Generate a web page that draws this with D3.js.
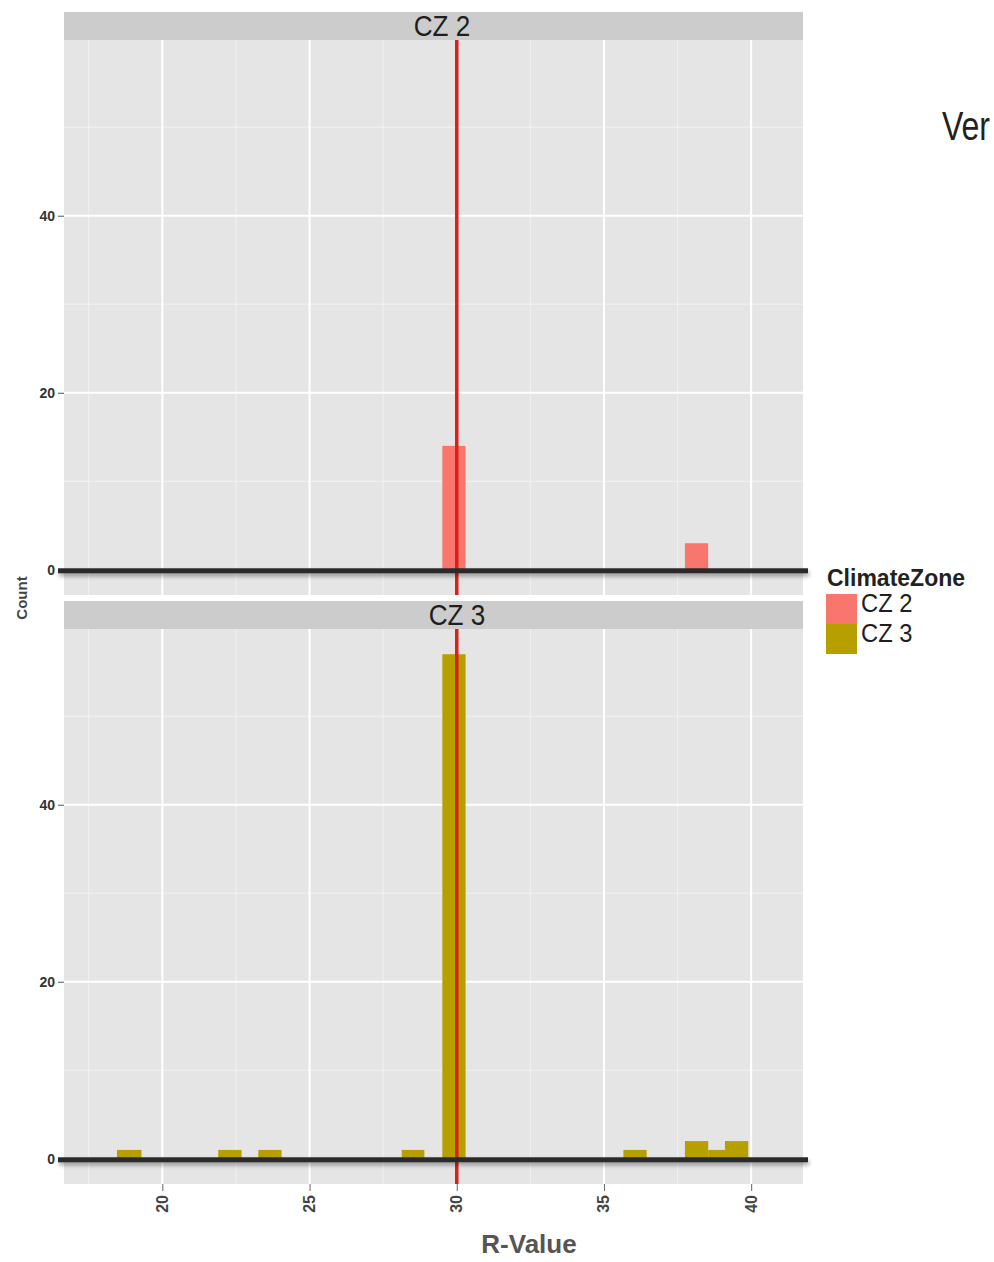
<!DOCTYPE html>
<html>
<head>
<meta charset="utf-8">
<script src="https://cdn.jsdelivr.net/npm/d3@7"></script>
<style>
  html, body { margin: 0; padding: 0; background: #ffffff; }
  svg { display: block; }
  .narrow { font-family: "Liberation Sans", Arial, sans-serif; }
  .sans { font-family: "Liberation Sans", Arial, sans-serif; }
</style>
</head>
<body>
<svg id="chart" width="994" height="1262"></svg>
<script>
// ---------- data ----------
const categories = ["CZ 2", "CZ 3"];
const cz2BinStart = [29.51, 37.75];
const cz2BinEnd   = [30.30, 38.54];
const cz2Counts   = [14, 3];
const cz3BinStart = [18.46, 21.90, 23.26, 28.13, 29.51, 35.66, 37.75, 38.54, 39.11];
const cz3BinEnd   = [19.29, 22.69, 24.05, 28.90, 30.30, 36.45, 38.54, 39.11, 39.90];
const cz3Counts   = [1, 1, 1, 1, 57, 1, 2, 1, 2];
const xTickValues = [20, 25, 30, 35, 40];
const xMinorValues = [17.5, 22.5, 27.5, 32.5, 37.5];
const yTickValues = [0, 20, 40];
const yMinorValues = [10, 30, 50];
const referenceValue = 30;
const colors = ["#F8766D", "#B79F00"];
const xTitle = "R-Value";
const yTitle = "Count";
const legendTitle = "ClimateZone";
const sideNote = "Ver";

// ---------- layout ----------
const svg = d3.select("#chart");
const panelLeft = 64, panelRight = 803;
const panels = [
  { name: categories[0], stripTop: 12, top: 40, bottom: 595, starts: cz2BinStart, ends: cz2BinEnd, counts: cz2Counts, color: colors[0], labelX: 442 },
  { name: categories[1], stripTop: 601, top: 629, bottom: 1184, starts: cz3BinStart, ends: cz3BinEnd, counts: cz3Counts, color: colors[1], labelX: 457 }
];

const x = d3.scaleLinear().domain([16.66, 41.76]).range([panelLeft, panelRight]);

const defs = svg.append("defs");
const f = defs.append("filter").attr("id", "shadow").attr("filterUnits", "userSpaceOnUse")
  .attr("x", 0).attr("y", 0).attr("width", 994).attr("height", 1262);
f.append("feDropShadow").attr("dx", 1).attr("dy", 3).attr("stdDeviation", 2).attr("flood-color", "#000").attr("flood-opacity", 0.35);

function narrowText(sel, xPos, yPos, size, sx, anchor) {
  return sel.append("text").attr("class", "narrow")
    .attr("transform", `translate(${xPos},${yPos}) scale(${sx},1)`)
    .attr("text-anchor", anchor || "start").attr("font-size", size);
}

panels.forEach((p, i) => {
  const y = d3.scaleLinear().domain([-2.85, 59.85]).range([p.bottom, p.top]);
  const g = svg.append("g");

  // strip
  g.append("rect").attr("x", panelLeft).attr("y", p.stripTop).attr("width", panelRight - panelLeft).attr("height", p.top - p.stripTop).attr("fill", "#cccccc");
  narrowText(g, p.labelX, p.top - 4, 29, 0.9, "middle").attr("fill", "#1e1e1e").text(p.name);

  // panel background
  g.append("rect").attr("x", panelLeft).attr("y", p.top).attr("width", panelRight - panelLeft).attr("height", p.bottom - p.top).attr("fill", "#e5e5e5");

  // minor grid
  g.selectAll(".vminor").data(xMinorValues).join("line")
    .attr("x1", d => x(d)).attr("x2", d => x(d)).attr("y1", p.top).attr("y2", p.bottom)
    .attr("stroke", "#f2f2f2").attr("stroke-width", 1);
  g.selectAll(".hminor").data(yMinorValues).join("line")
    .attr("x1", panelLeft).attr("x2", panelRight).attr("y1", d => y(d)).attr("y2", d => y(d))
    .attr("stroke", "#f2f2f2").attr("stroke-width", 1);
  // major grid
  g.selectAll(".vmajor").data(xTickValues).join("line")
    .attr("x1", d => x(d)).attr("x2", d => x(d)).attr("y1", p.top).attr("y2", p.bottom)
    .attr("stroke", "#ffffff").attr("stroke-width", 2);
  g.selectAll(".hmajor").data(yTickValues).join("line")
    .attr("x1", panelLeft).attr("x2", panelRight).attr("y1", d => y(d)).attr("y2", d => y(d))
    .attr("stroke", "#ffffff").attr("stroke-width", 2);

  // bars
  g.selectAll(".bar").data(p.counts.map((c, k) => ({ x0: p.starts[k], x1: p.ends[k], c }))).join("rect")
    .attr("x", d => x(d.x0)).attr("width", d => x(d.x1) - x(d.x0))
    .attr("y", d => y(d.c)).attr("height", d => y(0) - y(d.c))
    .attr("fill", p.color);

  // y axis
  const yAxis = d3.axisLeft(y).tickValues(yTickValues).tickSize(6).tickPadding(3);
  const ya = g.append("g").attr("transform", `translate(${panelLeft},0)`).call(yAxis);
  ya.select(".domain").remove();
  ya.selectAll(".tick line").attr("stroke", "#555").attr("stroke-width", 1);
  ya.selectAll(".tick text").attr("class", "sans").attr("font-size", 14).attr("font-weight", "bold").attr("fill", "#333");

  // reference line
  g.append("line").attr("x1", x(referenceValue)).attr("x2", x(referenceValue))
    .attr("y1", p.top).attr("y2", p.bottom)
    .attr("stroke", "#dd1f1a").attr("stroke-width", 3.5);

  // zero baseline (thick dark with shadow)
  g.append("rect").attr("x", panelLeft - 6).attr("width", panelRight - panelLeft + 11)
    .attr("y", y(0) - 1.5).attr("height", 5)
    .attr("fill", "#2a2a2a").attr("filter", "url(#shadow)");

  if (i === panels.length - 1) {
    const xAxis = d3.axisBottom(x).tickValues(xTickValues).tickSize(7).tickPadding(3);
    const xa = g.append("g").attr("transform", `translate(0,${p.bottom})`).call(xAxis);
    xa.select(".domain").remove();
    xa.selectAll(".tick line").attr("stroke", "#666").attr("stroke-width", 1);
    xa.selectAll(".tick text").attr("class", "sans").attr("font-size", 16).attr("font-weight", "bold").attr("fill", "#444")
      .attr("text-anchor", "end").attr("dy", null)
      .attr("transform", "rotate(-90)").attr("x", -11).attr("y", 5);
  }
});

// axis titles
svg.append("text").attr("class", "sans").attr("x", 529).attr("y", 1253)
  .attr("text-anchor", "middle").attr("font-size", 26).attr("font-weight", "bold").attr("fill", "#555").text(xTitle);
svg.append("text").attr("class", "sans").attr("transform", "translate(27,598) rotate(-90)")
  .attr("text-anchor", "middle").attr("font-size", 15).attr("font-weight", "bold").attr("fill", "#444").text(yTitle);

// legend
const lg = svg.append("g");
lg.append("text").attr("class", "sans").attr("x", 827).attr("y", 586)
  .attr("font-size", 23).attr("font-weight", "bold").attr("fill", "#222").text(legendTitle);
categories.forEach((c, k) => {
  lg.append("rect").attr("x", 826).attr("y", 594 + k * 30).attr("width", 31).attr("height", 30).attr("fill", colors[k]);
  narrowText(lg, 861, 612 + k * 30, 25, 0.95).attr("fill", "#1e1e1e").text(c);
});

// side note near right edge
narrowText(svg, 942, 140, 40, 0.8).attr("fill", "#222").text(sideNote);
</script>
</body>
</html>
